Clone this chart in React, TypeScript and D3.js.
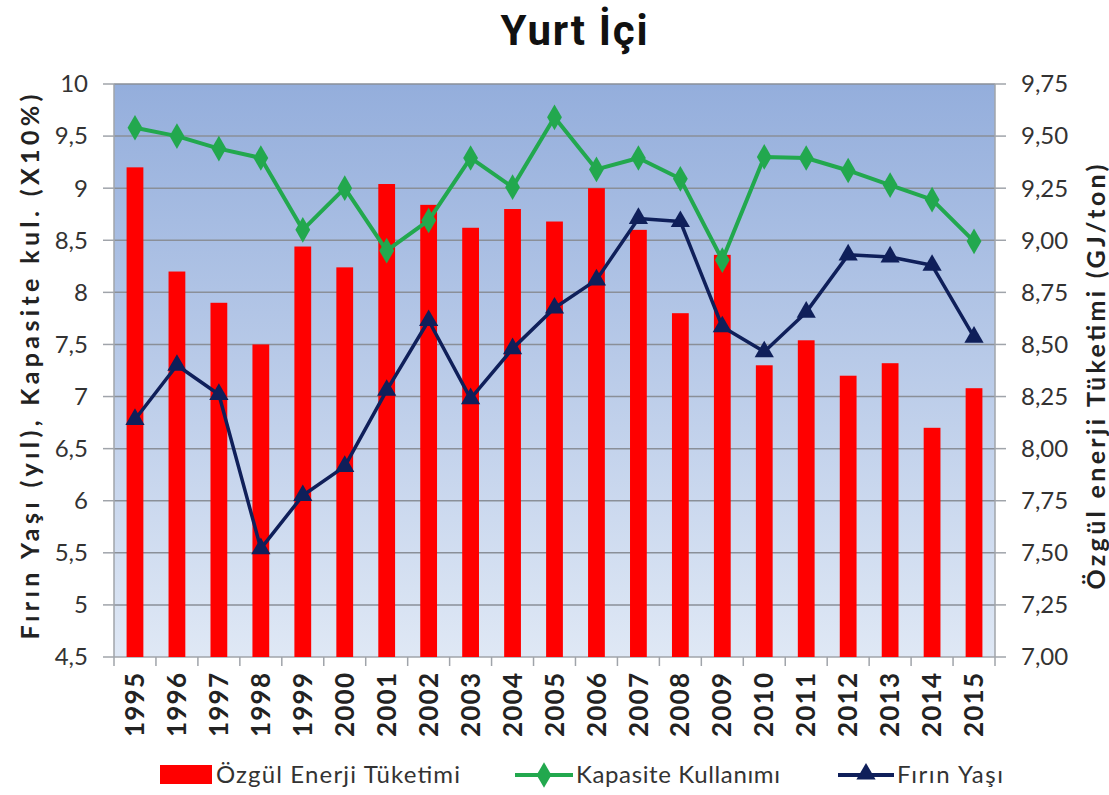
import * as d3 from 'd3'

// Yıllar
const YEARS = ['1995', '1996', '1997', '1998', '1999', '2000', '2001', '2002', '2003', '2004', '2005',
  '2006', '2007', '2008', '2009', '2010', '2011', '2012', '2013', '2014', '2015']

// Özgül Enerji Tüketimi (GJ/ton) - sağ eksen
const OZGUL = [9.35, 8.85, 8.70, 8.50, 8.97, 8.87, 9.27, 9.17, 9.06, 9.15, 9.09,
  9.25, 9.05, 8.65, 8.93, 8.40, 8.52, 8.35, 8.41, 8.10, 8.29]

// Kapasite Kullanımı (X10%) - sol eksen
const KAPASITE = [9.58, 9.50, 9.38, 9.29, 8.60, 9.00, 8.40, 8.69, 9.29, 9.01, 9.68,
  9.18, 9.29, 9.09, 8.31, 9.30, 9.29, 9.17, 9.03, 8.89, 8.49]

// Fırın Yaşı (yıl) - sol eksen
const FIRIN = [6.78, 7.30, 7.02, 5.54, 6.05, 6.33, 7.06, 7.73, 6.98, 7.46, 7.85,
  8.12, 8.71, 8.68, 7.67, 7.43, 7.81, 8.36, 8.34, 8.26, 7.57]

const LEFT_TICKS = [4.5, 5, 5.5, 6, 6.5, 7, 7.5, 8, 8.5, 9, 9.5, 10]
const RIGHT_TICKS = [7, 7.25, 7.5, 7.75, 8, 8.25, 8.5, 8.75, 9, 9.25, 9.5, 9.75]

const W = 1109
const H = 795
const margin = { top: 84, right: 114, bottom: 138, left: 114 }
const innerW = W - margin.left - margin.right
const innerH = H - margin.top - margin.bottom

const FONT = 'Lato, "Open Sans", sans-serif'
const GREEN = '#22a84e'
const NAVY = '#0f1f5a'
const AXIS = '#a0a4aa'

const fmtLeft = (d: number) => String(d).replace('.', ',')
const fmtRight = (d: number) => d.toFixed(2).replace('.', ',')

export default function App() {
  const x = d3.scaleBand<string>().domain(YEARS).range([0, innerW]).paddingInner(0.6).paddingOuter(0.3)
  const xb = d3.scaleBand<string>().domain(YEARS).range([0, innerW])
  const yL = d3.scaleLinear().domain([4.5, 10]).range([innerH, 0])
  const yR = d3.scaleLinear().domain([7, 9.75]).range([innerH, 0])
  const cx = (y: string) => (xb(y) ?? 0) + xb.bandwidth() / 2

  const line = d3.line<number>().x((_, i) => cx(YEARS[i])).y(d => yL(d))
  const diamond = d3.symbol().type(d3.symbolDiamond).size(190)()
  const triangle = d3.symbol().type(d3.symbolTriangle).size(160)()

  return (
    <svg width={W} height={H} style={{ display: 'block', position: 'absolute', left: 0, top: 0, background: '#fff' }}>
      <defs>
        <linearGradient id="bg" x1="0" y1="0" x2="0" y2="1">
          <stop offset="0%" stopColor="#94aedc" />
          <stop offset="100%" stopColor="#dfe8f5" />
        </linearGradient>
      </defs>
      <text x={574} y={45} textAnchor="middle" fontFamily="Roboto, 'Liberation Sans', sans-serif"
        fontWeight="bold" fontSize={42} fill="#111" textLength={147}>Yurt İçi</text>

      <g transform={`translate(${margin.left},${margin.top})`}>
        <rect x={0} y={0} width={innerW} height={innerH} fill="url(#bg)" />
        {LEFT_TICKS.slice(1).map(t => (
          <line key={t} x1={0} x2={innerW} y1={yL(t)} y2={yL(t)} stroke="#8a8f98" strokeWidth={1.5} />
        ))}
        <line x1={0} x2={0} y1={0} y2={innerH} stroke={AXIS} strokeWidth={1.5} />
        <line x1={innerW} x2={innerW} y1={0} y2={innerH} stroke={AXIS} strokeWidth={1.5} />
        <line x1={0} x2={innerW} y1={innerH} y2={innerH} stroke={AXIS} strokeWidth={1.5} />

        {/* left ticks */}
        {LEFT_TICKS.map(t => (
          <g key={t} transform={`translate(0,${yL(t)})`}>
            <line x1={-11} x2={0} stroke={AXIS} strokeWidth={1.5} />
            <text x={-26} dy="0.35em" textAnchor="end" fontFamily={FONT} fontSize={24} fill="#333">{fmtLeft(t)}</text>
          </g>
        ))}
        {/* right ticks */}
        {RIGHT_TICKS.map(t => (
          <g key={t} transform={`translate(${innerW},${yR(t)})`}>
            <line x1={0} x2={11} stroke={AXIS} strokeWidth={1.5} />
            <text x={26} dy="0.35em" textAnchor="start" fontFamily={FONT} fontSize={24} fill="#333">{fmtRight(t)}</text>
          </g>
        ))}
        {/* x ticks */}
        {YEARS.map(y => (
          <line key={y} x1={xb(y)} x2={xb(y)} y1={innerH} y2={innerH + 9} stroke={AXIS} strokeWidth={1.5} />
        ))}
        <line x1={innerW} x2={innerW} y1={innerH} y2={innerH + 9} stroke={AXIS} strokeWidth={1.5} />
        {YEARS.map(y => (
          <text key={y} transform={`translate(${cx(y)},${innerH + 16}) rotate(-90)`} dy="0.35em" textAnchor="end"
            fontFamily={FONT} fontWeight="bold" fontSize={26} fill="#222" textLength={64}>{y}</text>
        ))}

        {/* bars */}
        {YEARS.map((y, i) => (
          <rect key={y} x={x(y)} y={yR(OZGUL[i])} width={x.bandwidth()} height={innerH - yR(OZGUL[i])} fill="#ff0000" />
        ))}

        {/* Kapasite */}
        <path d={line(KAPASITE) ?? ''} fill="none" stroke={GREEN} strokeWidth={4} strokeLinejoin="round" />
        {KAPASITE.map((v, i) => (
          <path key={i} d={diamond ?? ''} transform={`translate(${cx(YEARS[i])},${yL(v)})`} fill={GREEN} />
        ))}

        {/* Fırın Yaşı */}
        <path d={line(FIRIN) ?? ''} fill="none" stroke={NAVY} strokeWidth={3.5} strokeLinejoin="round" />
        {FIRIN.map((v, i) => (
          <path key={i} d={triangle ?? ''} transform={`translate(${cx(YEARS[i])},${yL(v)})`} fill={NAVY} />
        ))}
      </g>

      {/* axis titles */}
      <text transform="translate(30,367) rotate(-90)" textAnchor="middle" dy="0.35em" fontFamily={FONT}
        fontWeight="bold" fontSize={25} fill="#222" textLength={545}>Fırın Yaşı (yıl), Kapasite kul. (X10%)</text>
      <text transform="translate(1096,377) rotate(-90)" textAnchor="middle" dy="0.35em" fontFamily={FONT}
        fontWeight="bold" fontSize={25} fill="#222" textLength={425}>Özgül enerji Tüketimi (GJ/ton)</text>

      {/* legend */}
      <g fontFamily={FONT} fontSize={24} fill="#333">
        <rect x={160} y={765} width={52} height={19} fill="#ff0000" />
        <text x={216} y={775} dy="0.35em" textLength={244}>Özgül Enerji Tüketimi</text>
        <line x1={515} x2={573} y1={775} y2={775} stroke={GREEN} strokeWidth={4} />
        <path d={diamond ?? ''} transform="translate(544,775)" fill={GREEN} />
        <text x={576} y={775} dy="0.35em" textLength={204}>Kapasite Kullanımı</text>
        <line x1={838} x2={894} y1={775} y2={775} stroke={NAVY} strokeWidth={4} />
        <path d={triangle ?? ''} transform="translate(866,774)" fill={NAVY} />
        <text x={897} y={775} dy="0.35em" textLength={106}>Fırın Yaşı</text>
      </g>
    </svg>
  )
}
